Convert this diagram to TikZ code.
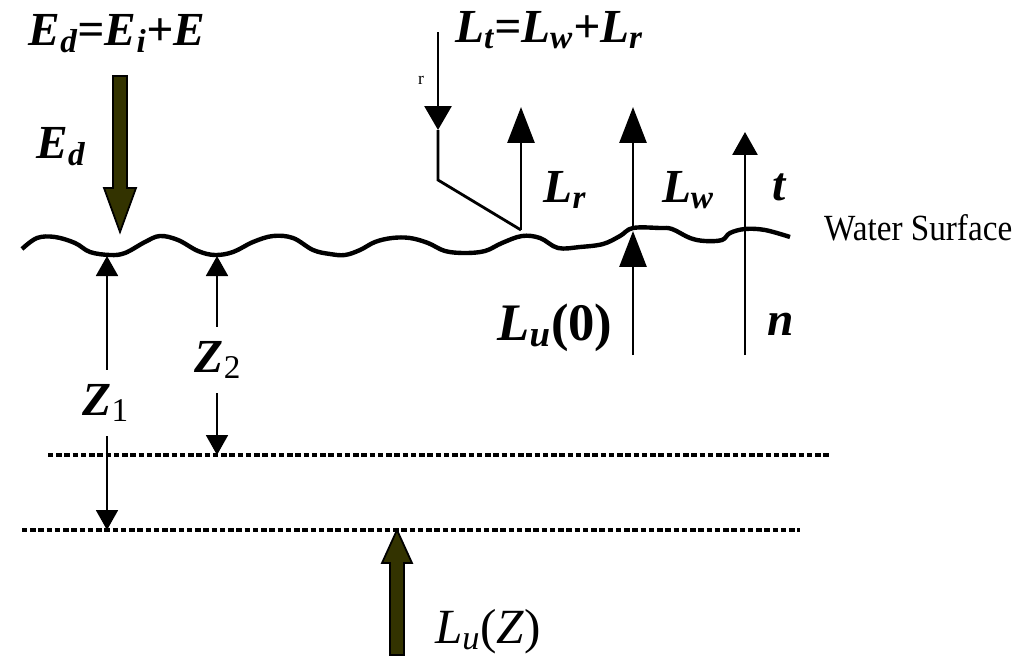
\documentclass[tikz,border=0pt]{standalone}
\usepackage{fontspec}
\setmainfont{Liberation Serif}
\usetikzlibrary{arrows.meta}
\definecolor{darkolive}{RGB}{51,51,0}
\begin{document}
\begin{tikzpicture}[x=0.02cm, y=-0.02cm,
   every node/.style={inner sep=1pt},
   lab/.style={font=\fontsize{27}{30}\selectfont\bfseries\itshape},
   zlab/.style={font=\fontsize{27}{30}\selectfont, inner ysep=8pt},
   surface/.style={line width=2.5pt, line join=round},
   ray/.style={line width=1.6pt},
   zray/.style={line width=1.1pt, -{Triangle[length=0.4cm, width=0.44cm]}},
   bighead/.style={-{Triangle[length=0.72cm, width=0.54cm]}},
   fat/.style={fill=darkolive, draw=black, line width=1pt},
   level/.style={line width=0.085cm, dash pattern=on 0.11cm off 0.055cm}]

\useasboundingbox (0,0) rectangle (1024,663);

\node[lab, anchor=base] (title) at (117,45) {E\textsubscript{d}=E\textsubscript{i}+E};
\node[lab, anchor=base] (edlab) at (61,158) {E\textsubscript{d}};
\coordinate (edtail) at (120,76);
\coordinate (edtip) at (120,232);
\filldraw[fat] (edtail) ++(-7,0) -- ++(0,112) -- ++(-9,0) -- (edtip) -- ++(16,-44) -- ++(-9,0) -- ++(0,-112) -- cycle;

\draw[surface] plot[smooth, tension=0.6] coordinates {(22,249) (37,238) (55,237) (75,243) (90,252) (110,255) (125,253) (145,242) (160,236) (178,240) (198,251) (215,255) (233,252) (253,242) (273,236) (293,238) (313,250) (330,254) (345,255) (360,250) (375,242) (392,238) (410,238) (428,243) (445,251) (465,253) (485,251) (502,243) (522,236) (540,238) (558,248) (580,247) (603,244) (620,236) (633,228) (660,228) (672,229) (690,238) (705,241) (722,240) (730,233) (745,229) (765,230) (790,237)};
\node[anchor=base west, font=\fontsize{21}{24}\selectfont] (wslab) at (822,240) {\scalebox{0.9}[1]{Water Surface}};

\node[lab, anchor=base] (ltlab) at (549,42) {L\textsubscript{t}=L\textsubscript{w}+L\textsubscript{r}};
\node[font=\fontsize{10}{11}\selectfont] (stray) at (421,80) {r};
\coordinate (lttop) at (438,32);
\coordinate (ltmid) at (438,130);
\coordinate (ltbend) at (438,180);
\coordinate (lrfoot) at (521,230);
\coordinate (lrtip) at (521,107);
\draw[ray, -{Triangle[length=0.48cm, width=0.54cm]}] (lttop) -- (ltmid);
\draw[ray] (ltmid) -- (ltbend) -- (lrfoot);
\draw[ray, bighead] (lrfoot) -- (lrtip);
\node[lab, anchor=base] (lrlab) at (565,202) {L\textsubscript{r}};

\coordinate (lwfoot) at (633,228);
\coordinate (lwtip) at (633,107);
\coordinate (lu0tail) at (633,355);
\coordinate (lu0tip) at (633,231);
\draw[ray, bighead] (lwfoot) -- (lwtip);
\draw[ray, bighead] (lu0tail) -- (lu0tip);
\node[lab, anchor=base] (lwlab) at (688,202) {L\textsubscript{w}};
\node[lab, anchor=base, font=\fontsize{30}{33}\selectfont\bfseries\itshape] (lu0lab) at (555,340) {L\textsubscript{u}\textup{(0)}};

\coordinate (ntail) at (745,355);
\coordinate (ttip) at (745,132);
\draw[ray, -{Triangle[length=0.46cm, width=0.5cm]}] (ntail) -- (ttip);
\node[lab, anchor=base] (tlab) at (779,200) {t};
\node[lab, anchor=base] (nlab) at (781,335) {n};

\coordinate (lv2a) at (48,455);
\coordinate (lv2b) at (830,455);
\coordinate (lv1a) at (22,530);
\coordinate (lv1b) at (800,530);
\draw[level] (lv2a) -- (lv2b);
\draw[level] (lv1a) -- (lv1b);

\coordinate (z1top) at (107,256);
\coordinate (z1bot) at (107,530);
\coordinate (z2top) at (217,256);
\coordinate (z2bot) at (217,455);
\node[zlab, anchor=base] (z1) at (106,415) {\textbf{\textit{Z}}\textsubscript{1}};
\node[zlab, anchor=base] (z2) at (218,372) {\textbf{\textit{Z}}\textsubscript{2}};
\draw[zray] (z1.north -| z1top) -- (z1top);
\draw[zray] (z1.south -| z1bot) -- (z1bot);
\draw[zray] (z2.north -| z2top) -- (z2top);
\draw[zray] (z2.south -| z2bot) -- (z2bot);

\coordinate (luztail) at (397,655);
\coordinate (luztip) at (397,530);
\filldraw[fat] (luztail) ++(-7,0) -- ++(0,-92) -- ++(-8,0) -- (luztip) -- ++(15,33) -- ++(-8,0) -- ++(0,92) -- cycle;
\node[anchor=base, font=\fontsize{28}{32}\selectfont] (luzlab) at (488,643) {\textit{L\textsubscript{u}}(\textit{Z})};

\end{tikzpicture}
\end{document}
